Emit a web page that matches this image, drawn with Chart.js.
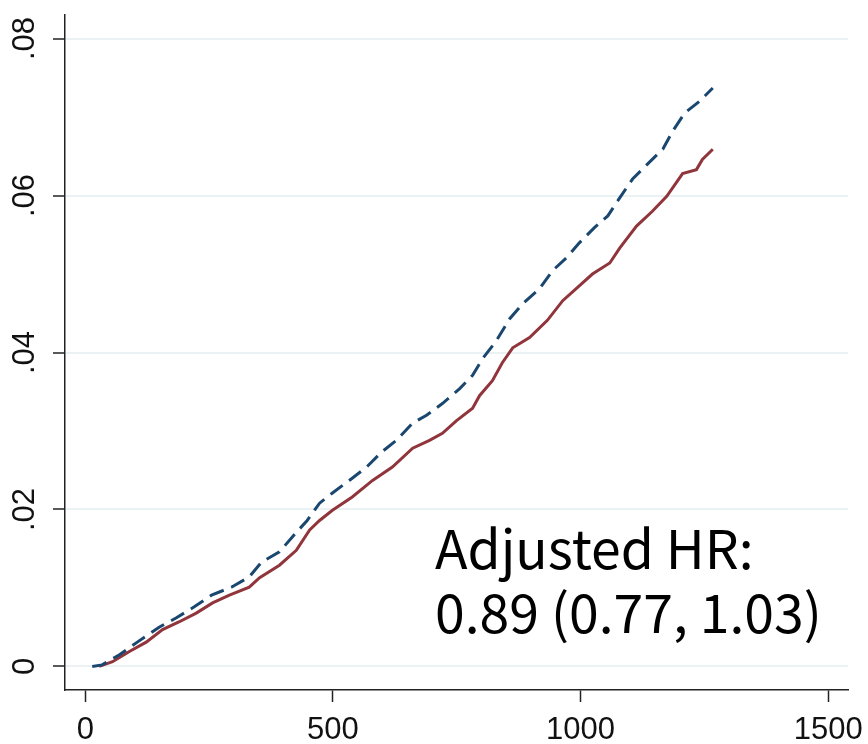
<!DOCTYPE html>
<html>
<head>
<meta charset="utf-8">
<script src="https://cdn.jsdelivr.net/npm/chart.js@4/dist/chart.umd.min.js"></script>
<style>
  html, body { margin: 0; padding: 0; background: #fff; }
  #wrap { width: 868px; height: 744px; }
</style>
</head>
<body>
<div id="wrap"><canvas id="myChart" width="868" height="744"></canvas></div>
<script>
// Step 1: values (days, cumulative incidence)
const blueDays = [14, 34, 69, 105, 133, 149, 184, 220, 255, 295, 331, 356, 392, 418, 448, 473, 499, 533, 568, 598, 628, 661, 689, 721, 756, 782, 802, 830, 857, 883, 917, 943, 972, 998, 1028, 1055, 1079, 1105, 1135, 1166, 1186, 1210, 1240, 1267];
const blueRisk = [0, .0002, .0015, .0031, .0043, .0050, .0062, .0076, .0091, .0101, .0114, .0133, .0146, .0165, .0186, .0208, .0221, .0237, .0254, .0273, .0288, .0310, .0320, .0335, .0354, .0371, .0392, .0415, .0443, .0462, .0481, .0504, .0521, .0540, .0559, .0574, .0597, .0621, .0640, .0659, .0682, .0705, .0720, .0737];

const redDays = [28, 55, 89, 123, 156, 190, 224, 257, 291, 331, 352, 392, 426, 453, 473, 499, 539, 580, 620, 661, 695, 721, 749, 782, 796, 822, 842, 863, 897, 933, 964, 994, 1024, 1059, 1079, 1113, 1145, 1174, 1206, 1234, 1246, 1267];
const redRisk = [0, .0006, .0019, .0031, .0047, .0057, .0068, .0081, .0091, .0101, .0113, .0129, .0148, .0174, .0186, .0199, .0216, .0237, .0254, .0278, .0288, .0297, .0313, .0329, .0345, .0364, .0387, .0406, .0419, .0441, .0466, .0483, .0500, .0514, .0533, .0561, .0580, .0599, .0628, .0633, .0646, .0659];

const xTicks = [0, 500, 1000, 1500];
const xTickLabels = ['0', '500', '1000', '1500'];
const yTicks = [0, .02, .04, .06, .08];
const yTickLabels = ['0', '.02', '.04', '.06', '.08'];

const noteLines = ['Adjusted HR:', '0.89 (0.77, 1.03)'];

// Step 2: build the datasets
function toPoints(xs, ys) {
    return xs.map((x, i) => ({ x: x, y: ys[i] }));
}

const dataForChart = {
    datasets: [
        {
            data: toPoints(blueDays, blueRisk),
            borderColor: '#1a476f',
            borderWidth: 3,
            borderDash: [15, 8],
            pointRadius: 0,
            fill: false,
            tension: 0
        },
        {
            data: toPoints(redDays, redRisk),
            borderColor: '#90353b',
            borderWidth: 3,
            pointRadius: 0,
            fill: false,
            tension: 0
        }
    ]
};

// draws the HR note inside the plot
const notePlugin = {
    id: 'hrNote',
    afterDatasetsDraw(chart) {
        const ctx = chart.ctx;
        const xs = chart.scales.x;
        const ys = chart.scales.y;
        ctx.save();
        ctx.font = '53.5px "Noto Sans CJK JP", "Noto Sans", sans-serif';
        ctx.fillStyle = '#000';
        ctx.textAlign = 'left';
        ctx.textBaseline = 'alphabetic';
        ctx.fillText(noteLines[0], xs.getPixelForValue(706), ys.getPixelForValue(.01244));
        ctx.fillText(noteLines[1], xs.getPixelForValue(706), ys.getPixelForValue(.0043));
        ctx.restore();
    }
};

const tickFont = { family: '"Liberation Sans", Arial, sans-serif', size: 31 };

const config = {
    type: 'line',
    data: dataForChart,
    options: {
        responsive: false,
        animation: false,
        layout: { padding: { top: 15, right: 20, left: 0, bottom: 0 } },
        scales: {
            x: {
                type: 'linear',
                min: -41,
                max: 1540,
                afterBuildTicks: s => { s.ticks = xTicks.map(v => ({ value: v })); },
                afterFit: s => {
                    s.height = 54;
                    s.paddingLeft = 0; s.paddingRight = 0;
                },
                border: { display: true, color: '#222', width: 1.5 },
                grid: {
                    drawOnChartArea: false,
                    drawTicks: true,
                    tickLength: 12,
                    tickColor: '#222',
                    tickWidth: 1.5
                },
                ticks: {
                    color: '#111',
                    font: tickFont,
                    padding: 10,
                    maxRotation: 0,
                    autoSkip: false,
                    callback: (v, i) => xTickLabels[i]
                }
            },
            y: {
                min: -0.0030,
                max: 0.0830,
                afterBuildTicks: s => { s.ticks = yTicks.map(v => ({ value: v })); },
                afterFit: s => {
                    s.width = 65;
                    s.paddingTop = 0; s.paddingBottom = 0;
                },
                border: { display: true, color: '#222', width: 1.5 },
                grid: {
                    color: '#eaf2f3',
                    lineWidth: 2,
                    drawTicks: true,
                    tickLength: 12,
                    tickColor: '#222',
                    tickWidth: 1.5
                },
                ticks: {
                    color: '#111',
                    font: tickFont,
                    padding: 6,
                    minRotation: 90,
                    maxRotation: 90,
                    crossAlign: 'center',
                    autoSkip: false,
                    callback: (v, i) => yTickLabels[i]
                }
            }
        },
        plugins: {
            legend: { display: false },
            tooltip: { enabled: false }
        }
    },
    plugins: [notePlugin]
};

const ctx = document.getElementById('myChart').getContext('2d');
new Chart(ctx, config);
</script>
</body>
</html>
